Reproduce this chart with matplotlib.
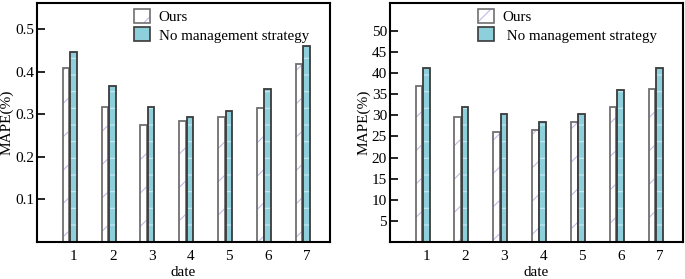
import numpy as np
import matplotlib
matplotlib.use("Agg")
import matplotlib.pyplot as plt
from matplotlib.patches import Patch

plt.rcParams['font.family'] = ['Liberation Serif', 'DejaVu Serif']
plt.rcParams['font.size'] = 11
plt.rcParams['hatch.linewidth'] = 0.8

dates = [1, 2, 3, 4, 5, 6, 7]
ours_left = [0.41, 0.317, 0.275, 0.284, 0.293, 0.316, 0.418]
base_left = [0.448, 0.367, 0.318, 0.293, 0.307, 0.359, 0.462]
ours_right = [36.9, 29.5, 26.0, 26.6, 28.5, 32.0, 36.2]
base_right = [41.2, 32.0, 30.2, 28.4, 30.3, 36.0, 41.2]

blue = '#8ecfdc'
w = 0.17

fig = plt.figure(figsize=(6.85, 2.79), dpi=100)
ax1 = fig.add_axes([0.054, 0.133, 0.428, 0.856])
ax2 = fig.add_axes([0.569, 0.133, 0.428, 0.856])


def draw(ax, ours, base, ylim, yticks, ytl, lx, labels):
    x = np.array(dates)
    # white bars with a light purple diagonal hatch
    ax.bar(x - 0.2, ours, w, facecolor='white', edgecolor='#c4b8e8',
           hatch='/', linewidth=0)
    ax.bar(x - 0.2, ours, w, facecolor='none', edgecolor='#707070', linewidth=1.3)
    # blue bars with faint horizontal lines
    ax.bar(x - 0.01, base, w, facecolor=blue, edgecolor='#c8ecf2',
           hatch='-', linewidth=0)
    ax.bar(x - 0.01, base, w, facecolor='none', edgecolor='#3a3a3a', linewidth=1.3)
    ax.set_xlim(0.05, 7.6)
    ax.set_ylim(*ylim)
    ax.set_xticks(dates)
    ax.set_yticks(yticks)
    ax.set_yticklabels(ytl)
    ax.tick_params(axis='y', direction='in', length=6, width=1.2, pad=2)
    ax.tick_params(axis='x', length=0, pad=6)
    for s in ax.spines.values():
        s.set_linewidth(1.5)
    ax.set_xlabel('date', labelpad=2)
    ax.set_ylabel('MAPE(%)', labelpad=1)
    h1 = (Patch(facecolor='white', edgecolor='#c4b8e8', hatch='/', linewidth=0),
          Patch(facecolor='none', edgecolor='#707070', linewidth=1.2))
    h2 = Patch(facecolor=blue, edgecolor='#3a3a3a', linewidth=1.2)
    ax.legend([h1, h2], labels, loc='upper left', bbox_to_anchor=(lx, 1.03),
              frameon=False, handlelength=1.05, handleheight=1.05,
              handletextpad=0.6, labelspacing=0.2, fontsize=10.8)


draw(ax1, ours_left, base_left, (0, 0.562),
     [0.1, 0.2, 0.3, 0.4, 0.5], ['0.1', '0.2', '0.3', '0.4', '0.5'],
     0.285, ['Ours', 'No management strategy'])
draw(ax2, ours_right, base_right, (0, 56.6),
     [5, 10, 15, 20, 25, 30, 35, 40, 45, 50],
     ['5', '10', '15', '20', '25', '30', '35', '40', '45', '50'],
     0.255, ['Ours', ' No management strategy'])

fig.savefig('out.png', dpi=100)
